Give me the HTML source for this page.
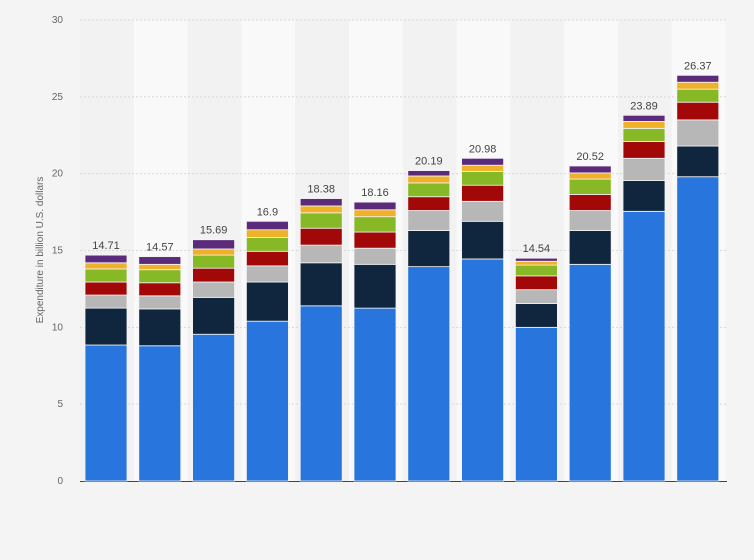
<!DOCTYPE html>
<html><head><meta charset="utf-8"><style>
body{margin:0;background:#f4f4f4;font-family:"Liberation Sans",sans-serif}
</style></head><body>
<svg id="chart" width="754" height="560" xmlns="http://www.w3.org/2000/svg" style="display:block">
<rect x="0" y="0" width="754" height="560" fill="#f4f4f4"/>
<g id="bands"></g><g id="grid"></g><g id="bars"></g><g id="labels"></g>
<text transform="translate(43,250) rotate(-90)" text-anchor="middle" font-size="10" fill="#666">Expenditure in billion U.S. dollars</text>
</svg>
<script>
const categories=["1","2","3","4","5","6","7","8","9","10","11","12"];
const totals=[14.71,14.57,15.69,16.9,18.38,18.16,20.19,20.98,14.54,20.52,23.89,26.37];
const s1=[8.85,8.8,9.55,10.4,11.4,11.25,13.95,14.45,10.0,14.1,17.55,19.8];
const s2=[2.4,2.4,2.4,2.55,2.8,2.85,2.35,2.45,1.55,2.2,2.0,2.0];
const s3=[0.85,0.85,1.0,1.05,1.15,1.05,1.3,1.3,0.9,1.3,1.45,1.7];
const s4=[0.85,0.85,0.9,0.95,1.1,1.05,0.9,1.05,0.9,1.05,1.1,1.15];
const s5=[0.85,0.85,0.85,0.9,1.0,1.0,0.9,0.9,0.7,1.0,0.85,0.85];
const s6=[0.4,0.35,0.4,0.5,0.45,0.45,0.45,0.4,0.25,0.4,0.45,0.45];
const s7=[0.5,0.5,0.6,0.55,0.48,0.5,0.35,0.45,0.2,0.45,0.4,0.45];
const yTicks=[0,5,10,15,20,25,30];
const series=[s1,s2,s3,s4,s5,s6,s7];
const colors=["#2876dd","#10263e","#b7b7b7","#a30808","#86b925","#eeb127","#5b2a7a"];
const NS="http://www.w3.org/2000/svg";
const x0=80,pitch=53.8,bw=42,off=5;
const y=v=>481-v*(461/30);
const xb=i=>x0+i*pitch;
function mk(tag,attrs,parent){const e=document.createElementNS(NS,tag);for(const k in attrs)e.setAttribute(k,attrs[k]);document.getElementById(parent).appendChild(e);return e;}
categories.forEach((c,i)=>{
 const b=mk('rect',{x:xb(i),y:20,width:pitch,height:461,fill:i%2?'#f9f9f9':'#f2f2f2'},'bands');
 
 
});
yTicks.forEach(t=>{
 if(t>0){const l=mk('line',{x1:x0,x2:727,y1:y(t),y2:y(t),stroke:'#d8d8d8','stroke-dasharray':'2,2'},'grid');
 
 }
 const tx=mk('text',{x:63,y:y(t)+3,'text-anchor':'end','font-size':'10',fill:'#666'},'grid');
 tx.textContent=t;
 
 
});
const ax=mk('line',{x1:x0,x2:727,y1:481.5,y2:481.5,stroke:'#444','stroke-width':1},'grid');


categories.forEach((c,i)=>{
 let acc=0;
 series.forEach((s,k)=>{
  const v=s[i];
  const r=mk('rect',{x:xb(i)+off,y:y(acc+v),width:bw,height:y(acc)-y(acc+v),fill:colors[k],stroke:'#f4f4f4','stroke-width':0.8},'bars');
  
  
  acc+=v;
 });
 const t=mk('text',{x:xb(i)+off+bw/2,y:y(acc)-6,'text-anchor':'middle','font-size':'11',fill:'#444'},'labels');
 t.textContent=totals[i];
 
 
});
</script>
</body></html>
